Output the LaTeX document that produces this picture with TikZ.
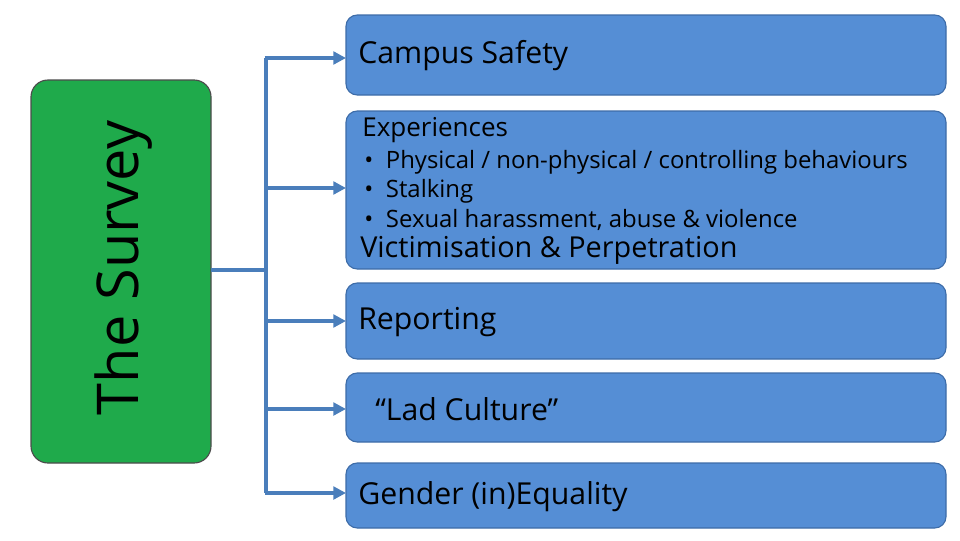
\documentclass[tikz,border=0pt]{standalone}
\usepackage{fontspec}
\setmainfont{Open Sans}
\usetikzlibrary{positioning,arrows.meta}
\definecolor{boxblue}{HTML}{558ED5}
\definecolor{boxline}{HTML}{3D6CA8}
\definecolor{arrblue}{HTML}{4A7EBB}
\definecolor{survgreen}{HTML}{1FAA4B}
\begin{document}
\begin{tikzpicture}[x=0.025cm,y=-0.025cm,
    topic/.style={draw=boxline, fill=boxblue, thick, rounded corners=8pt},
    lbl/.style={anchor=west, inner sep=0pt, text=black},
    link/.style={arrblue, line width=3.2pt},
    >={Triangle[length=9pt,width=9pt]}]
  \useasboundingbox (0,0) rectangle (960,540);
  % survey block
  \draw[fill=survgreen, draw=black!70, thick, rounded corners=12pt] (31,80) rectangle (211,463);
  \node[rotate=90, font=\fontsize{41}{44}\selectfont] (survey) at (124,268) {The Survey};
  % topic boxes
  \draw[topic] (346,15) rectangle (946,95);
  \draw[topic] (346,111) rectangle (946,269);
  \draw[topic] (346,283) rectangle (946,359);
  \draw[topic] (346,373) rectangle (946,442);
  \draw[topic] (346,463) rectangle (946,528);
  \begin{scope}[every node/.style={lbl, font=\fontsize{21.5}{24}\selectfont}]
    \node (safety) at (358,56) {Campus Safety};
    \node (exp) at (362,130) {\fontsize{18.5}{22}\selectfont Experiences};
    \node (victim) at (360,250) {\fontsize{20.5}{24}\selectfont Victimisation \& Perpetration};
    \node (report) at (358,322) {Reporting};
    \node (lad) at (375,409) {“Lad Culture”};
    \node (gender) at (358,497) {Gender (in)Equality};
  \end{scope}
  \begin{scope}[every node/.style={lbl, font=\fontsize{17}{20}\selectfont}]
    \node (b1) at (364,162) {•\hspace{9pt}Physical / non-physical / controlling behaviours};
    \node (b2) at (364,191) {•\hspace{9pt}Stalking};
    \node (b3) at (364,220) {•\hspace{9pt}Sexual harassment, abuse \& violence};
  \end{scope}
  % connectors
  \coordinate (hub) at (266,270);
  \coordinate (top) at (266,58);
  \coordinate (bot) at (266,493);
  \draw[link] (211,270) -- (hub);
  \draw[link] (top) -- (bot);
  \foreach \y in {58,188,321,409,493}
    \draw[link, ->] (264.5,\y) -- (346,\y);
\end{tikzpicture}
\end{document}
